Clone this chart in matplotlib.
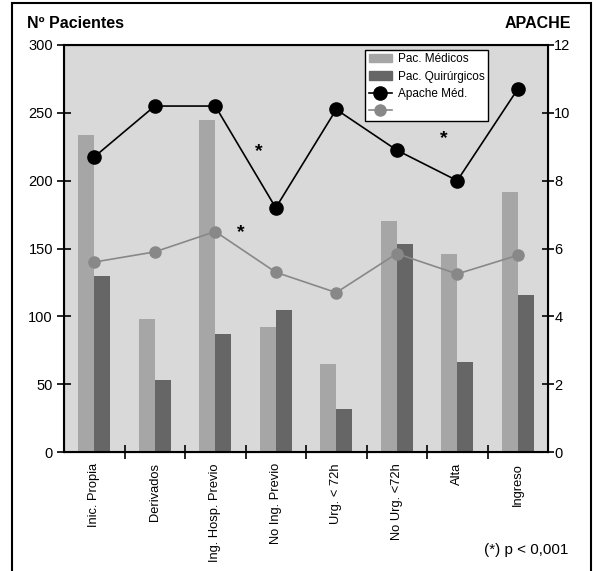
import numpy as np
import matplotlib.pyplot as plt
from matplotlib.patches import Patch, Rectangle
from matplotlib.lines import Line2D

plt.rcParams['font.family'] = ['Liberation Sans', 'DejaVu Sans']

categorias = ['Inic. Propia', 'Derivados', 'Ing. Hosp. Previo', 'No Ing. Previo',
              'Urg. < 72h', 'No Urg. <72h', 'Alta', 'Ingreso']
pac_medicos = [234, 98, 245, 92, 65, 170, 146, 192]
pac_quirurgicos = [130, 53, 87, 105, 32, 153, 66, 116]
apache_med = [8.7, 10.2, 10.2, 7.2, 10.1, 8.9, 8.0, 10.7]
apache_quir = [5.6, 5.9, 6.5, 5.3, 4.7, 5.85, 5.25, 5.8]
# asteriscos (posicion categoria, valor APACHE)
asteriscos = [(3.22, 8.86), (2.93, 6.46), (6.28, 9.25)]

gris_fondo = '#d9d9d9'
gris_med = '#a6a6a6'
gris_quir = '#666666'
gris_linea = '#888888'

fig = plt.figure(figsize=(5.98, 5.71), dpi=100)
ax = fig.add_axes([64 / 598, 1 - 452 / 571, 484 / 598, 407 / 571])
ax.set_facecolor(gris_fondo)

x = np.arange(len(categorias)) + 0.5
ancho = 0.265
ax.bar(x - ancho / 2, pac_medicos, ancho, color=gris_med, zorder=2)
ax.bar(x + ancho / 2, pac_quirurgicos, ancho, color=gris_quir, zorder=2)

ax.set_xlim(0, len(categorias))
ax.set_ylim(0, 300)
ax.set_yticks(range(0, 301, 50))
ax.set_xticks(x)
ax.set_xticklabels(categorias, rotation=90, va='top', ha='center')
ax.set_xticks(np.arange(1, len(categorias)), minor=True)
ax.tick_params(axis='x', which='major', length=0, pad=8, labelsize=9.3)
ax.tick_params(axis='x', which='minor', direction='inout', length=10, width=1.2)
ax.tick_params(axis='y', direction='inout', length=10, width=1.2, pad=3, labelsize=10.5)
for s in ax.spines.values():
    s.set_linewidth(1.5)

ax2 = ax.twinx()
ax2.set_ylim(0, 12)
ax2.set_yticks(range(0, 13, 2))
ax2.tick_params(axis='y', direction='inout', length=9, width=1.2, pad=0, labelsize=10.5)
ax2.plot(x, apache_quir, color=gris_linea, lw=1.2, marker='o', ms=8, zorder=3)
ax2.plot(x, apache_med, color='black', lw=1.2, marker='o', ms=9.5, zorder=4)
for xa, ya in asteriscos:
    ax2.text(xa, ya, '*', ha='center', va='center', fontsize=14, fontweight='bold')

handles = [Patch(color=gris_med), Patch(color=gris_quir),
           Line2D([], [], color='black', marker='o', ms=9.5, lw=1.2),
           Line2D([], [], color=gris_linea, marker='o', ms=8, lw=1.2)]
labels = ['Pac. Médicos', 'Pac. Quirúrgicos', 'Apache Méd.', '']
leg = ax2.legend(handles, labels, loc='upper right', bbox_to_anchor=(0.876, 0.988),
                 borderaxespad=0, fontsize=8.5, fancybox=False, framealpha=1,
                 edgecolor='black', handlelength=1.95, handletextpad=0.5,
                 labelspacing=0.45, borderpad=0.3)
leg.get_frame().set_linewidth(1.0)

fig.text(27 / 598, 1 - 23 / 571, 'Nº Pacientes', fontsize=11.5, fontweight='bold',
         ha='left', va='center')
fig.text(571 / 598, 1 - 23 / 571, 'APACHE', fontsize=11.5, fontweight='bold',
         ha='right', va='center')
fig.text(568 / 598, 1 - 550 / 571, '(*) p < 0,001', fontsize=11,
         ha='right', va='center')

fig.patches.append(Rectangle((12 / 598, -0.05), 579 / 598, 0.05 + 1 - 3 / 571,
                             transform=fig.transFigure, fill=False,
                             edgecolor='black', lw=1.5))

fig.savefig('out.png', dpi=100)
